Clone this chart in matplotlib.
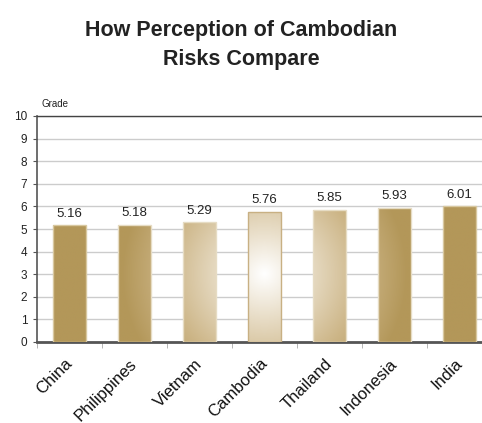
import numpy as np
import matplotlib
matplotlib.use('Agg')
import matplotlib.pyplot as plt
import matplotlib.transforms as mtrans
from matplotlib.colors import LinearSegmentedColormap

countries = ['China', 'Philippines', 'Vietnam', 'Cambodia', 'Thailand', 'Indonesia', 'India']
grades = [5.16, 5.18, 5.29, 5.76, 5.85, 5.93, 6.01]
yticks = [0, 1, 2, 3, 4, 5, 6, 7, 8, 9, 10]

plt.rcParams['font.family'] = ['Liberation Sans', 'DejaVu Sans']

fig = plt.figure(figsize=(4.82, 4.23), dpi=100)
ax = fig.add_axes([37/482, 1-342/423, 1-37/482, (342-116)/423])

tan = '#b39759'
cmap = LinearSegmentedColormap.from_list('glow', ['#ffffff', '#e6dac2', '#cdb688', tan, tan],
                                         N=256)

# radial glow centred on the Cambodia bar, in pixel-ish units
px_x, px_y = 65.0, 22.55
cx, cy = 3, 3
gx = np.linspace(-0.5, 6.5, 400)
gy = np.linspace(0, 10, 300)
GX, GY = np.meshgrid(gx, gy)
dist = np.hypot((GX-cx)*px_x, (GY-cy)*px_y)
glow = np.clip(dist/190.0, 0, 1)

bars = ax.bar(range(len(countries)), grades, width=0.5, color='none', zorder=3)
for i, b in enumerate(bars):
    im = ax.imshow(glow, extent=(-0.5, 6.5, 0, 10), origin='lower', cmap=cmap,
                   vmin=0, vmax=1, aspect='auto', zorder=3, interpolation='bilinear')
    im.set_clip_path(b)
    ec = '#c8b083' if i == 3 else '#e6dcc4'
    if i in (0, 6):
        ec = '#d8c8a0'
    ax.bar(i, grades[i], width=0.5, facecolor='none', edgecolor=ec, linewidth=1, zorder=4)

for i, g in enumerate(grades):
    ax.annotate('%.2f' % g, (i, g), xytext=(0, 4), textcoords='offset points',
                ha='center', va='bottom', fontsize=9.5, color='#222222')

ax.set_xlim(-0.5, 6.5 - 10/65)
ax.set_ylim(0, 10)
ax.set_yticks(yticks)
ax.set_yticklabels([str(t) for t in yticks], fontsize=8.5, color='#222222')
ax.yaxis.grid(True, color='#cccccc', linewidth=1)
ax.set_axisbelow(True)
ax.tick_params(axis='y', length=3, color='#555555', pad=4)

ax.set_xticks(range(len(countries)))
ax.set_xticklabels(countries, rotation=45, ha='right', va='top', rotation_mode='anchor',
                   fontsize=12, color='#111111')
ax.tick_params(axis='x', length=0, pad=10)
shift = mtrans.ScaledTranslation(-5/100, 0, fig.dpi_scale_trans)
for lab in ax.get_xticklabels():
    lab.set_transform(lab.get_transform() + shift)
ax.set_xticks(np.arange(-0.5, 6.0, 1), minor=True)
ax.tick_params(axis='x', which='minor', length=4, color='#aaaaaa')

ax.spines['right'].set_visible(False)
ax.spines['top'].set_color('#444444')
ax.spines['top'].set_linewidth(1)
ax.spines['left'].set_color('#555555')
ax.spines['left'].set_linewidth(1.2)
ax.spines['bottom'].set_color('#555555')
ax.spines['bottom'].set_linewidth(2)

fig.text(41/482, 1-104/423, 'Grade', fontsize=7, color='#222222', va='center')
fig.text(241/482, 1-45/423, 'How Perception of Cambodian\nRisks Compare', ha='center', va='center',
         fontsize=15.5, fontweight='bold', color='#222222', linespacing=1.45)

fig.savefig('out.png', dpi=100)
